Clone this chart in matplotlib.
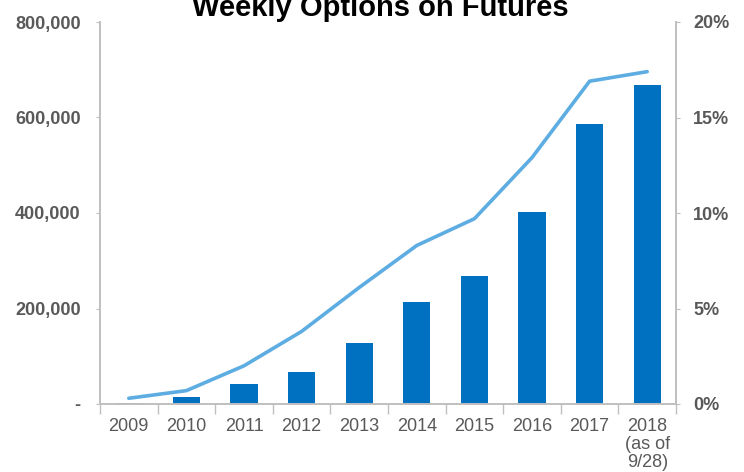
import matplotlib
matplotlib.use("Agg")
import matplotlib.pyplot as plt
from matplotlib.ticker import FuncFormatter, FixedLocator
import numpy as np

plt.rcParams['font.family'] = ['Liberation Sans', 'DejaVu Sans']

years = ["2009", "2010", "2011", "2012", "2013", "2014", "2015", "2016", "2017", "2018\n(as of\n9/28)"]
volume = [2000, 14000, 41000, 67000, 128000, 213000, 268000, 403000, 586000, 668000]
share_pct = [0.3, 0.7, 2.0, 3.8, 6.1, 8.3, 9.7, 12.9, 16.9, 17.4]
left_ticks = [0, 200000, 400000, 600000, 800000]
right_ticks = [0, 5, 10, 15, 20]

fig = plt.figure(figsize=(7.44, 4.72), dpi=100)
ax = fig.add_axes([100/744, 1-404/472, 576/744, 382/472])
ax2 = ax.twinx()

x = np.arange(len(years))
ax.bar(x, volume, width=0.47, color="#0070C0", zorder=2)
ax2.plot(x, share_pct, color="#5DADE2", lw=2.6, solid_capstyle="round", zorder=3)

ax.set_xlim(-0.5, len(years)-0.5)
ax.set_ylim(0, 800000)
ax2.set_ylim(0, 20)
ax.set_yticks(left_ticks)
ax2.set_yticks(right_ticks)
ax.yaxis.set_major_formatter(FuncFormatter(lambda v, p: "-" if v == 0 else f"{int(v):,}"))
ax2.yaxis.set_major_formatter(FuncFormatter(lambda v, p: f"{int(v)}%"))

ax.set_xticks(x)
ax.set_xticklabels(years, fontsize=13, color="#595959", linespacing=1.1)
ax.tick_params(axis='x', length=0, pad=10)
ax.xaxis.set_minor_locator(FixedLocator(np.arange(-0.5, len(years), 1.0)))
ax.tick_params(axis='x', which='minor', length=7, color="#BFBFBF", width=1)

for lab in ax.get_yticklabels():
    lab.set_fontweight('bold')
for lab in ax2.get_yticklabels():
    lab.set_fontweight('bold')
ax.tick_params(axis='y', labelsize=13, labelcolor="#595959", color="#BFBFBF", length=3, pad=11)
ax2.tick_params(axis='y', labelsize=13, labelcolor="#595959", color="#BFBFBF", length=3, pad=9.5)

for a in (ax, ax2):
    a.spines['top'].set_visible(False)
    for s in ('left', 'right', 'bottom'):
        a.spines[s].set_color("#BFBFBF")
        a.spines[s].set_linewidth(1.2)

fig.text(380/744, 1-16/472, "Weekly Options on Futures", ha='center', va='baseline',
         fontsize=21, fontweight='bold', color='black')

fig.savefig("out.png", dpi=100)
